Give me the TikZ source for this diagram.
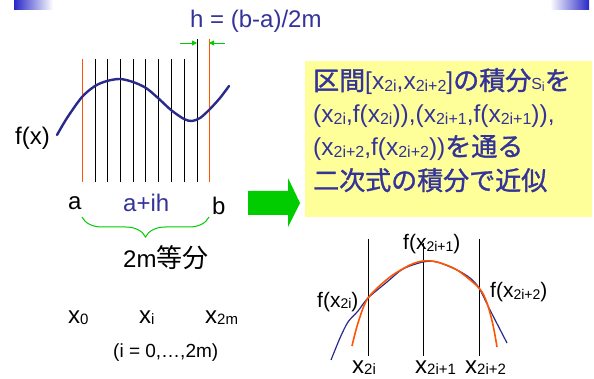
\documentclass[tikz,border=0pt]{standalone}
\usepackage{fontspec}
\setmainfont{Liberation Sans}
\newfontfamily\jpfont{Noto Sans CJK JP}
\newfontfamily\jpnote[FakeBold=1.2]{Noto Sans CJK JP}
\usepackage{xcolor}
\usepackage{tikz}
\usetikzlibrary{arrows.meta,decorations.pathreplacing,calc}
\definecolor{slblue}{RGB}{51,51,153}
\definecolor{slcurve}{RGB}{42,42,140}
\definecolor{slorange}{RGB}{255,85,0}
\definecolor{slgreen}{RGB}{0,204,0}
\definecolor{slyellow}{RGB}{255,255,153}
\definecolor{slbar}{RGB}{40,40,200}
\newcommand{\fsz}[1]{\fontsize{#1}{#1}\selectfont}
\newcommand{\jp}[1]{{\jpfont\fsz{26}#1}}
\newcommand{\jpb}[1]{{\jpnote\fsz{26}#1}}
\newcommand{\lo}[2][15]{\raisebox{-1.5pt}{\fsz{#1}#2}}
\tikzset{
  txt/.style={inner sep=0pt, anchor=base west, font=\fsz{24}},
  bluetxt/.style={txt, text=slblue},
  notetxt/.style={txt, text=slblue, font=\fsz{24.5}},
  smalltxt/.style={txt, font=\fsz{21}},
  gridline/.style={black, line width=0.8pt},
  endline/.style={slorange, line width=0.8pt},
  fcurve/.style={slcurve, line width=2.4pt, line cap=round},
  thincurve/.style={slcurve, line width=1.2pt},
  quadcurve/.style={slorange, line width=1.6pt},
  harrow/.style={-{Triangle[length=5pt,width=5pt]}, slgreen, line width=0.8pt},
  bracegreen/.style={decorate, decoration={brace, mirror, amplitude=20pt, aspect=0.5}, slgreen, line width=1pt}
}

\begin{document}
\begin{tikzpicture}[x=1pt,y=-1pt]
\useasboundingbox (0,0) rectangle (594,379);
\fill[white] (0,0) rectangle (594,379);
% slide decoration
\shade[left color=slbar, right color=white] (14,0) rectangle (53,10);
\shade[left color=white, right color=slbar] (550,0) rectangle (589,10);

% division of [a,b]
\coordinate (ea) at (82,59);
\coordinate (eb) at (209,39);
\draw[endline] (ea) -- (82,182);
\draw[endline] (eb) -- (209,182);
\foreach \k in {0,...,7}
  \draw[gridline] ({95+12.7*\k},59) -- ({95+12.7*\k},182);
\coordinate (g9) at (197,39);
\draw[gridline] (g9) -- (197,182);
\draw[fcurve] plot[smooth] coordinates {(57,135) (67,118) (82,97) (95,86) (107,81) (120,79) (133,82) (146,88) (158,98) (171,110) (184,119) (192,121) (200,118) (209,110) (220,98) (229,86)};

% step width
\node[bluetxt] (hlabel) at (190,28) {h = (b-a)/2m};
\coordinate (hL) at (180,43);
\coordinate (hR) at (225,43);
\draw[harrow] (hL) -- (hL -| g9);
\draw[harrow] (hR) -- (hR -| eb);

\node[txt] (fxlabel) at (15,145) {f(x)};
\node[txt] (alabel) at (68,210) {a};
\node[bluetxt] (aihlabel) at (123,212) {a+ih};
\node[txt] (blabel) at (212,215) {b};
\coordinate (ba) at (82,217);
\coordinate (bb) at (209,217);
\draw[bracegreen] (ba) -- (bb);
\node[txt] (divlabel) at (123,268) {2m\jp{等分}};
\node[txt] (xzero) at (68,323) {x\lo{0}};
\node[txt] (xilabel) at (139,323) {x\lo{i}};
\node[txt] (xtwom) at (205,323) {x\lo{2m}};
\node[txt, font=\fsz{19}] (irange) at (113,357) {(i = 0,\ldots,2m)};

% block arrow
\fill[slgreen] (248,191) -- (288,191) -- (288,178) -- (300,203) -- (288,227) -- (288,215) -- (248,215) -- cycle;

% note
\fill[slyellow] (305,61) rectangle (592,217);
\node[notetxt] (note1) at (313,90) {\jpb{区間}[x\lo[16]{2i},x\lo[16]{2i+2}]\jpb{の積分}{\fsz{16}S\lo[13]{i}}\jpb{を}};
\node[notetxt] (note2) at (313,123) {(x\lo[16]{2i},f(x\lo[16]{2i})),(x\lo[16]{2i+1},f(x\lo[16]{2i+1})),};
\node[notetxt] (note3) at (313,156) {(x\lo[16]{2i+2},f(x\lo[16]{2i+2}))\jpb{を通る}};
\node[notetxt] (note4) at (313,190) {\jpb{二次式の積分で近似}};

% quadratic approximation
\coordinate (q0) at (368,239);
\coordinate (q1) at (423,243);
\coordinate (q2) at (479,239);
\draw[gridline] (q0) -- (368,356);
\draw[gridline] (q1) -- (423,356);
\draw[gridline] (q2) -- (479,356);
\draw[thincurve] plot[smooth] coordinates {(331,360) (340,338) (348,322) (358,311) (368,298) (387,282) (403,269) (423,262) (437,262) (457,270) (470,278) (479,288) (490,310) (507,343)};
\draw[quadcurve] plot[smooth] coordinates {(352,346) (358,323) (368,298) (390,277) (410,265) (423,261) (437,262) (457,270) (479,288) (487,303) (493,325) (497,347)};
\node[smalltxt] (fmid) at (403,250) {f(x\lo[14]{2i+1})};
\node[smalltxt] (fleft) at (317,307) {f(x\lo[14]{2i})};
\node[smalltxt] (fright) at (490,298) {f(x\lo[14]{2i+2})};
\node[txt] (xleft) at (352,373) {x\lo{2i}};
\node[txt] (xmid) at (415,373) {x\lo{2i+1}};
\node[txt] (xright) at (465,373) {x\lo{2i+2}};
\end{tikzpicture}
\end{document}
